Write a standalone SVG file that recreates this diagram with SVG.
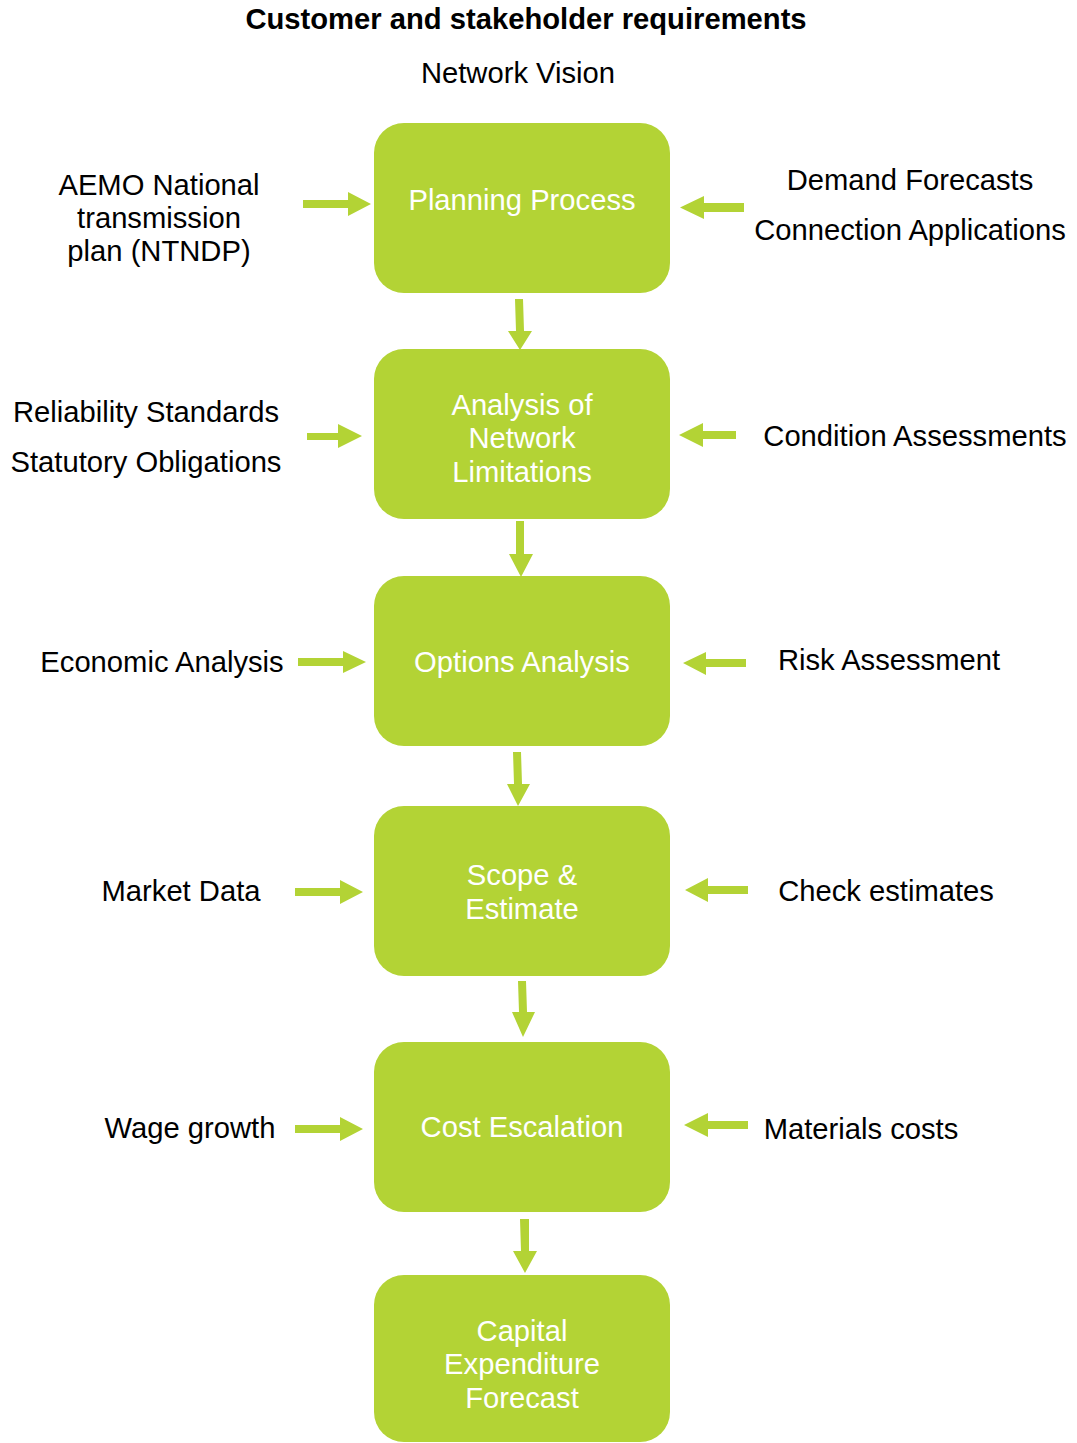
<svg xmlns="http://www.w3.org/2000/svg" width="1077" height="1443" viewBox="0 0 1077 1443">
<style>
.box{fill:#b3d335;}
.arr{fill:#b3d335;}
.bt{font-family:"Liberation Sans",Arial,sans-serif;font-size:29.2px;fill:#ffffff;text-anchor:middle;}
.lt{font-family:"Liberation Sans",Arial,sans-serif;font-size:29.2px;fill:#000000;text-anchor:middle;}
.title{font-family:"Liberation Sans",Arial,sans-serif;font-size:29.2px;font-weight:bold;fill:#000000;text-anchor:middle;}
</style>
<rect width="1077" height="1443" fill="#ffffff"/>
<text class="title" x="526" y="29">Customer and stakeholder requirements</text>
<text class="lt" x="518" y="83">Network Vision</text>

<g id="labels">
<text class="lt" x="159" y="195">AEMO National</text>
<text class="lt" x="159" y="228">transmission</text>
<text class="lt" x="159" y="261">plan (NTNDP)</text>
<text class="lt" x="910" y="190">Demand Forecasts</text>
<text class="lt" x="910" y="240">Connection Applications</text>
<text class="lt" x="146" y="422">Reliability Standards</text>
<text class="lt" x="146" y="472">Statutory Obligations</text>
<text class="lt" x="915" y="446">Condition Assessments</text>
<text class="lt" x="162" y="672">Economic Analysis</text>
<text class="lt" x="889" y="670">Risk Assessment</text>
<text class="lt" x="181" y="901">Market Data</text>
<text class="lt" x="886" y="901">Check estimates</text>
<text class="lt" x="190" y="1138">Wage growth</text>
<text class="lt" x="861" y="1139">Materials costs</text>
</g>

<g id="node-planning">
<rect class="box" x="374" y="123" width="296" height="170" rx="30"/>
<text class="bt" x="522" y="210">Planning Process</text>
</g>
<g id="node-analysis">
<rect class="box" x="374" y="349" width="296" height="170" rx="30"/>
<text class="bt" x="522" y="415">Analysis of</text>
<text class="bt" x="522" y="448">Network</text>
<text class="bt" x="522" y="482">Limitations</text>
</g>
<g id="node-options">
<rect class="box" x="374" y="576" width="296" height="170" rx="30"/>
<text class="bt" x="522" y="672">Options Analysis</text>
</g>
<g id="node-scope">
<rect class="box" x="374" y="806" width="296" height="170" rx="30"/>
<text class="bt" x="522" y="885">Scope &amp;</text>
<text class="bt" x="522" y="919">Estimate</text>
</g>
<g id="node-cost">
<rect class="box" x="374" y="1042" width="296" height="170" rx="30"/>
<text class="bt" x="522" y="1137">Cost Escalation</text>
</g>
<g id="node-capex">
<rect class="box" x="374" y="1275" width="296" height="167" rx="30"/>
<text class="bt" x="522" y="1341">Capital</text>
<text class="bt" x="522" y="1374">Expenditure</text>
<text class="bt" x="522" y="1408">Forecast</text>
</g>

<g id="connectors">
<polygon class="arr" points="303,200 348,200 348,192 371,204 348,216 348,208 303,208"/>
<polygon class="arr" points="744,203 704,203 704,196 680,207.5 704,219 704,212 744,212"/>
<polygon class="arr" points="307,433 338,433 338,424 362,436 338,448 338,440 307,440"/>
<polygon class="arr" points="736,431 703,431 703,423 679,435 703,447 703,439 736,439"/>
<polygon class="arr" points="298,658 343,658 343,651 366,662 343,673 343,666 298,666"/>
<polygon class="arr" points="746,659 706,659 706,652 683,663 706,675 706,667 746,667"/>
<polygon class="arr" points="295,888 340,888 340,880 363,892 340,904 340,896 295,896"/>
<polygon class="arr" points="748,886 708,886 708,878 685,890 708,902 708,894 748,894"/>
<polygon class="arr" points="295,1125 340,1125 340,1117 363,1129 340,1141 340,1133 295,1133"/>
<polygon class="arr" points="748,1121 708,1121 708,1113 684,1125 708,1137 708,1129 748,1129"/>
<polygon class="arr" points="515,299 523,299 524,331 532,331 520,350 508,331 516,331"/>
<polygon class="arr" points="516,521 524,521 524,554 533,554 521,577 509,554 516,554"/>
<polygon class="arr" points="513,752 521,752 522,784 530,784 518,806 507,784 514,784"/>
<polygon class="arr" points="518,981 526,981 527,1012 535,1012 523,1037 512,1012 519,1012"/>
<polygon class="arr" points="520,1219 529,1219 529,1251 537,1251 525,1273 513,1251 521,1251"/>
</g>
</svg>
